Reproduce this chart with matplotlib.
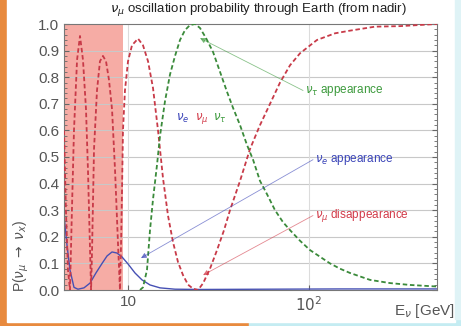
import matplotlib
matplotlib.use("Agg")
import matplotlib.pyplot as plt
from matplotlib.patches import Rectangle

plt.rcParams["font.family"] = ["Liberation Sans", "DejaVu Sans"]

# nu_mu survival (red dashed)
e_mumu = [4.43, 4.54, 4.66, 4.78, 4.90, 5.03, 5.23, 5.43, 5.64, 5.86, 6.01, 6.17, 6.25,
          6.33, 6.49, 6.74, 7.00, 7.27, 7.56, 7.85, 8.16, 8.48, 8.81, 9.03, 9.15, 9.27,
          9.38, 9.62, 10.0, 10.52, 11.36, 12.10, 12.90, 13.74, 14.65, 15.61, 16.63,
          17.73, 18.89, 20.13, 21.46, 22.87, 24.37, 25.97, 28.38, 31.03, 33.92, 36.60,
          41.57, 47.21, 53.62, 60.90, 69.17, 78.56, 89.22, 110.7, 139.2, 168.5, 231.5,
          318.3, 509.4]
p_mumu = [0.60, 0.30, 0.075, 0.0, 0.30, 0.60, 0.865, 0.955, 0.865, 0.68, 0.45, 0.15, 0.0,
          0.15, 0.53, 0.75, 0.86, 0.88, 0.86, 0.79, 0.68, 0.45, 0.17, 0.0, 0.17, 0.38,
          0.60, 0.75, 0.86, 0.92, 0.945, 0.92, 0.86, 0.76, 0.60, 0.42, 0.28,
          0.18, 0.105, 0.056, 0.02, 0.005, 0.0, 0.025, 0.08, 0.15, 0.225, 0.30,
          0.41, 0.53, 0.62, 0.70, 0.78, 0.845, 0.89, 0.94, 0.965, 0.975, 0.99,
          0.992, 1.0]

# nu_tau appearance (green dashed)
e_mutau = [11.65, 12.10, 12.73, 13.23, 13.74, 14.46, 15.03, 16.01, 17.06, 18.19, 19.38,
           20.65, 22.00, 23.45, 24.99, 26.98, 29.49, 32.24, 35.24, 38.03, 41.57, 45.45,
           49.06, 53.62, 58.62, 64.89, 71.84, 78.56, 89.22, 101.3, 115.0, 130.6, 148.4,
           168.5, 217.3, 280.3, 361.4, 509.4]
p_mutau = [0.0, 0.01, 0.075, 0.225, 0.34, 0.47, 0.58, 0.71, 0.81, 0.88, 0.94,
           0.977, 0.996, 1.0, 0.985, 0.947, 0.895, 0.82, 0.745, 0.685, 0.62, 0.545,
           0.49, 0.41, 0.36, 0.30, 0.255, 0.225, 0.185, 0.15, 0.125, 0.10, 0.08,
           0.064, 0.038, 0.026, 0.019, 0.013]

# nu_e appearance (blue solid)
e_mue = [4.43, 4.60, 4.78, 5.03, 5.29, 5.71, 6.17, 6.65, 7.19, 7.66, 8.16, 8.69, 9.27,
         10.0, 10.93, 11.95, 13.23, 15.03, 18.19, 24.99, 60.0, 150.0, 509.4]
p_mue = [0.28, 0.17, 0.075, 0.01, 0.003, 0.008, 0.026, 0.064, 0.10, 0.128, 0.143, 0.139,
         0.124, 0.098, 0.064, 0.038, 0.019, 0.008, 0.003, 0.002, 0.003, 0.004, 0.004]

shade_range = (4.4, 9.4)

labels = ["$\\nu_\\tau$ appearance", "$\\nu_e$ appearance", "$\\nu_\\mu$ disappearance"]
label_pos = [(92.7, 0.75), (105.2, 0.49), (105.2, 0.28)]
arrow_tip = [(24.99, 0.947), (11.79, 0.12), (25.97, 0.056)]
colors = ["#3c9a3c", "#3a44b8", "#d23a48"]

fig = plt.figure(figsize=(4.61, 3.26), dpi=100, facecolor="#e88a3e")
fig.patches.append(Rectangle((0.54, 0), 0.46, 0.02, transform=fig.transFigure,
                             color="#c4ecf2", zorder=-3))
fig.patches.append(Rectangle((7 / 461, 4 / 326), 448 / 461, 1, transform=fig.transFigure,
                             color="white", zorder=-2))
fig.patches.append(Rectangle((455 / 461, 0.02), 6 / 461, 1, transform=fig.transFigure,
                             color="#dff3f6", zorder=-2))

ax = fig.add_axes([64 / 461, 1 - 290 / 326, 373 / 461, 266 / 326])
ax.set_facecolor("white")
ax.set_xscale("log")
ax.set_xlim(4.43, 509.4)
ax.set_ylim(0, 1.0)

ax.axvspan(*shade_range, color="#f5a39b", alpha=0.9, lw=0, zorder=0)
for yv in [0.1, 0.2, 0.3, 0.4, 0.5, 0.6, 0.7, 0.8, 0.9]:
    ax.axhline(yv, color="#c8c8c8", lw=0.8, zorder=0.5)
for xv in [10, 100]:
    ax.axvline(xv, color="#dcdcdc", lw=0.8, zorder=0.5)

ax.plot(e_mue, p_mue, color="#4650b4", lw=1.0, zorder=2)
ax.plot(e_mumu, p_mumu, color="#c83a48", lw=1.3, ls=(0, (2.5, 1.5)), zorder=3)
ax.plot(e_mutau, p_mutau, color="#3a8a3a", lw=1.3, ls=(0, (2.5, 1.5)), zorder=3)

for lab, pos, tip, c in zip(labels, label_pos, arrow_tip, colors):
    ax.annotate("", xy=tip, xytext=pos,
                arrowprops=dict(arrowstyle="-|>", color=c, lw=0.6, alpha=0.6,
                                mutation_scale=8, shrinkA=0, shrinkB=0))
    ax.text(pos[0] * 1.03, pos[1], lab, color=c, fontsize=8.5, ha="left", va="center")

ax.text(20.13, 0.645, "$\\nu_e$", color="#3a44b8", fontsize=8.5, ha="center", va="center")
ax.text(25.62, 0.645, "$\\nu_\\mu$", color="#d23a48", fontsize=8.5, ha="center", va="center")
ax.text(32.24, 0.645, "$\\nu_\\tau$", color="#3c9a3c", fontsize=8.5, ha="center", va="center")

ax.set_yticks([0.0, 0.1, 0.2, 0.3, 0.4, 0.5, 0.6, 0.7, 0.8, 0.9, 1.0])
ax.set_yticklabels(["0.0", "0.1", "0.2", "0.3", "0.4", "0.5", "0.6", "0.7", "0.8", "0.9", "1.0"])
ax.set_yticks([i * 0.02 for i in range(51)], minor=True)
ax.set_xticks([10, 100])
ax.set_xticklabels(["10", "$10^2$"])
ax.tick_params(axis="both", which="both", direction="in", right=True, top=False,
               colors="#666666", labelsize=11, labelcolor="#555555")
ax.tick_params(axis="y", which="minor", length=2)
ax.tick_params(axis="x", which="minor", length=0)
for s in ax.spines.values():
    s.set_color("#777777")

fig.text(258 / 461, 1 - 10 / 326, "$\\nu_\\mu$ oscillation probability through Earth (from nadir)",
         fontsize=9.5, color="#222222", ha="center", va="center")
fig.text(455 / 461, 1 - 311 / 326, "E$_\\nu$ [GeV]", fontsize=11, color="#555555",
         ha="right", va="center")
fig.text(21 / 461, 1 - 292 / 326, "P($\\nu_\\mu$ $\\rightarrow$ $\\nu_x$)", fontsize=10,
         color="#555555", rotation=90, ha="center", va="bottom")

fig.savefig("out.png", dpi=100, facecolor=fig.get_facecolor())
